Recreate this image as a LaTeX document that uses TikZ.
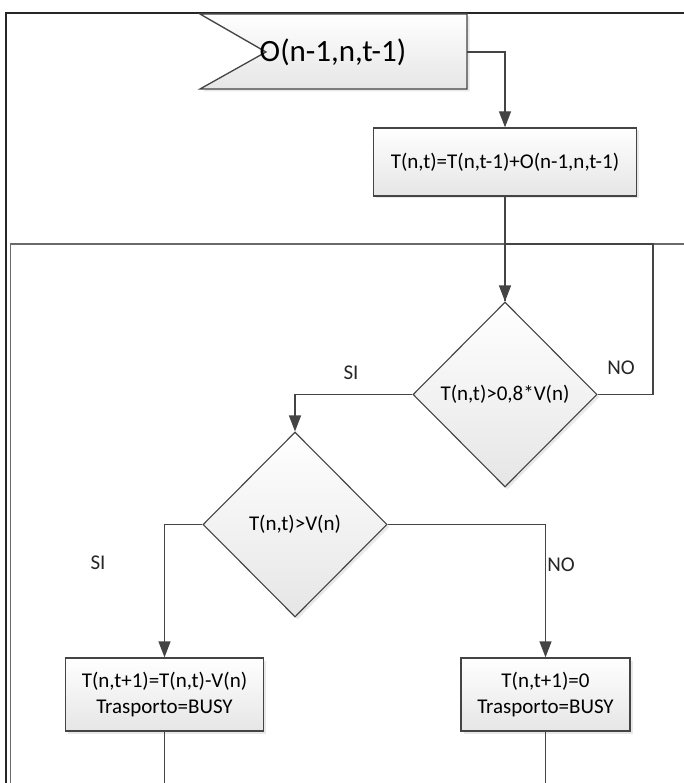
\documentclass[tikz,border=0pt]{standalone}
\usepackage{fontspec}
\setmainfont{Carlito}
\usetikzlibrary{shapes.geometric,arrows.meta,shadows}

\definecolor{edge}{HTML}{444444}
\definecolor{framegray}{HTML}{6A6A6A}

\tikzset{
  fillshade/.style={top color=white, bottom color=gray!20},
  softshadow/.style={drop shadow={shadow xshift=2.5pt, shadow yshift=-2.5pt, opacity=0.18, fill=gray}},
  procbox/.style={draw=edge, line width=1.3pt, rectangle, fillshade, softshadow,
    align=center, inner sep=0pt, font=\fontsize{21}{26}\selectfont},
  decision/.style={draw=edge, line width=1.1pt, diamond, fillshade, softshadow,
    inner sep=0pt, minimum width=184pt, minimum height=185pt,
    font=\fontsize{21}{26}\selectfont},
  flowline/.style={draw=edge, line width=1.3pt},
  arr/.style={flowline, -{Triangle[length=16pt,width=12pt]}},
  lbl/.style={font=\fontsize{21}{26}\selectfont, inner sep=0pt, text=black!85},
}

\begin{document}
\begin{tikzpicture}[x=1pt, y=-1pt]
  \useasboundingbox (0,0) rectangle (684,783);

  % outer and inner frames
  \draw[black!85, line width=2pt] (6,783) -- (6,13) -- (684,13);
  \draw[framegray, line width=1.6pt] (10.5,783) -- (10.5,244) -- (684,244);

  % incoming off-page connector
  \path[draw=edge, line width=1.3pt, fillshade, softshadow]
    (200,14) -- (467,14) -- (467,89) -- (200,89) -- (266,52) -- cycle;
  \node[inner sep=0pt, font=\fontsize{31}{36}\selectfont] (in) at (333,52) {O(n-1,n,t-1)};
  \coordinate (inR) at (467,52);

  % process and decision nodes
  \node[procbox, minimum width=263pt, minimum height=68pt] (upd) at (505,162)
    {T(n,t)=T(n,t-1)+O(n-1,n,t-1)};
  \node[decision] (d1) at (505,394.5) {T(n,t)>0,8*V(n)};
  \node[decision] (d2) at (295,524.5) {T(n,t)>V(n)};
  \node[procbox, minimum width=198pt, minimum height=73pt] (sub) at (164.5,694.5)
    {T(n,t+1)=T(n,t)-V(n)\\Trasporto=BUSY};
  \node[procbox, minimum width=169pt, minimum height=73pt] (zero) at (545.5,694.5)
    {T(n,t+1)=0\\Trasporto=BUSY};

  \coordinate (loop) at (653,244);
  \coordinate (subOut) at (164.5,783);
  \coordinate (zeroOut) at (545.5,783);

  % connectors
  \draw[arr] (inR) -| (upd.north);
  \draw[arr] (upd.south) -- (d1.north);
  \draw[flowline] (d1.east) -| (loop) -| (d1.north);
  \draw[arr] (d1.west) -| (d2.north);
  \draw[arr] (d2.west) -| (sub.north);
  \draw[arr] (d2.east) -| (zero.north);
  \draw[flowline] (sub.south) -- (subOut);
  \draw[flowline] (zero.south) -- (zeroOut);

  % branch labels
  \node[lbl] (si1) at (351,373) {SI};
  \node[lbl] (no1) at (621,368) {NO};
  \node[lbl] (si2) at (98,563) {SI};
  \node[lbl] (no2) at (561,565) {NO};
\end{tikzpicture}
\end{document}
